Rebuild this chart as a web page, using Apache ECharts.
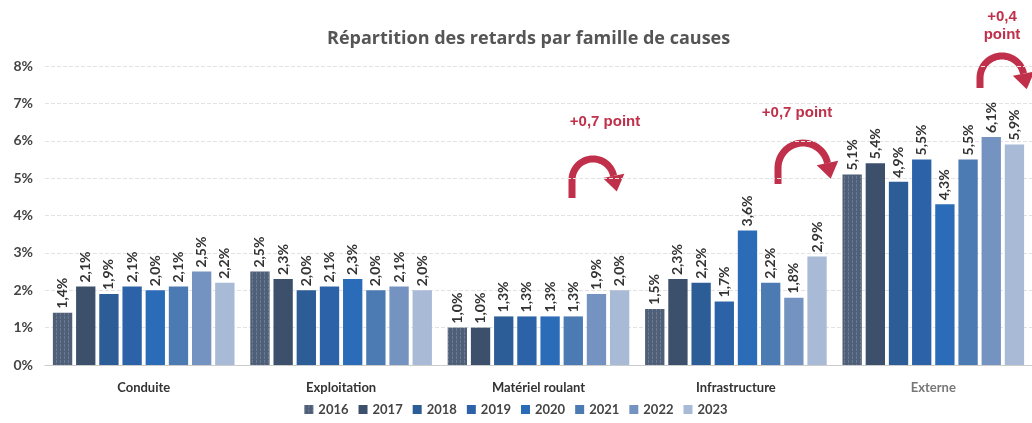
<!DOCTYPE html>
<html>
<head>
<meta charset="utf-8">
<script src="https://cdn.jsdelivr.net/npm/echarts@6/dist/echarts.min.js"></script>
<style>
  html, body { margin: 0; padding: 0; background: #fff; }
  #chart { width: 1032px; height: 423px; }
</style>
</head>
<body>
<div id="chart"></div>
<script>
// familles de causes
const categories = ['Conduite', 'Exploitation', 'Matériel roulant', 'Infrastructure', 'Externe']
const years = ['2016', '2017', '2018', '2019', '2020', '2021', '2022', '2023']
// part des retards (%) par année, dans l'ordre des familles
const v2016 = [1.4, 2.5, 1.0, 1.5, 5.1]
const v2017 = [2.1, 2.3, 1.0, 2.3, 5.4]
const v2018 = [1.9, 2.0, 1.3, 2.2, 4.9]
const v2019 = [2.1, 2.1, 1.3, 1.7, 5.5]
const v2020 = [2.0, 2.3, 1.3, 3.6, 4.3]
const v2021 = [2.1, 2.0, 1.3, 2.2, 5.5]
const v2022 = [2.5, 2.1, 1.9, 1.8, 6.1]
const v2023 = [2.2, 2.0, 2.0, 2.9, 5.9]
const yTicks = [0, 1, 2, 3, 4, 5, 6, 7, 8]

const values = [v2016, v2017, v2018, v2019, v2020, v2021, v2022, v2023]
const colors = ['#4f5f78', '#3d506b', '#2d5d96', '#2c63a8', '#2b6cb9', '#4c7ab3', '#7593c0', '#a8bad6']
const red = '#c0304a'
const font = 'Lato, "Open Sans", sans-serif'

const chart = echarts.init(document.getElementById('chart'))

// flèche courbe : jambe gauche verticale, demi-cercle, pointe vers le bas
const arrow = (cx, cy, r, leg, a1) => {
  const pts = [[cx - r, cy + leg]]
  for (let k = 0; k <= 30; k++) {
    const a = Math.PI + (a1 - Math.PI) * k / 30
    pts.push([cx + r * Math.cos(a), cy + r * Math.sin(a)])
  }
  const ex = cx + r * Math.cos(a1), ey = cy + r * Math.sin(a1)
  const tx = -Math.sin(a1), ty = Math.cos(a1)
  const nx = Math.cos(a1), ny = Math.sin(a1)
  return [
    { type: 'polyline', shape: { points: pts }, style: { stroke: red, lineWidth: 7, fill: null } },
    { type: 'polygon', shape: { points: [
        [ex + nx * 11, ey + ny * 11], [ex - nx * 11, ey - ny * 11], [ex + tx * 16, ey + ty * 16]
      ] }, style: { fill: red } }
  ]
}
const note = (x, y, text) => ({
  type: 'text', x, y,
  style: { text, fill: red, font: 'bold 15px "Liberation Sans", Arial, sans-serif', textAlign: 'center', textVerticalAlign: 'middle' }
})

const option = {
  backgroundColor: '#fff',
  animation: false,
  title: {
    text: 'Répartition des retards par famille de causes',
    left: 322, top: 25,
    textStyle: { fontFamily: '"Open Sans", sans-serif', fontSize: 18, fontWeight: 'bold', color: '#555' }
  },
  legend: {
    bottom: 2, left: 'center',
    icon: 'rect',
    itemWidth: 9, itemHeight: 9, itemGap: 10,
    textStyle: { fontFamily: font, fontSize: 13, fontWeight: 'bold', color: '#444' },
    data: years
  },
  grid: { left: 45, right: -13, top: 66, bottom: 58 },
  xAxis: {
    type: 'category',
    data: categories,
    axisTick: { show: false },
    axisLine: { lineStyle: { color: '#ccc' } },
    axisLabel: {
      margin: 16, fontFamily: font, fontSize: 13, fontWeight: 'bold', color: '#333',
      formatter: v => v === 'Externe' ? '{ext|' + v + '}' : v,
      rich: { ext: { fontFamily: font, fontSize: 13, color: '#777' } }
    }
  },
  yAxis: {
    type: 'value',
    min: yTicks[0], max: yTicks[yTicks.length - 1], interval: 1,
    axisLabel: {
      fontFamily: font, fontSize: 14, fontWeight: 'bold', color: '#444', margin: 12,
      formatter: v => v + '%'
    },
    splitLine: { lineStyle: { color: '#e2e2e2', type: 'dashed' } }
  },
  series: years.map((y, i) => ({
    name: y,
    type: 'bar',
    data: values[i],
    barGap: '20%',
    barCategoryGap: '8%',
    itemStyle: Object.assign({ color: colors[i] }, i === 0 ? {
      decal: { symbol: 'rect', dashArrayX: [1, 3], dashArrayY: [3, 1], color: 'rgba(160,175,195,0.35)' }
    } : {}),
    label: {
      show: true, position: 'top', rotate: 90, align: 'left', verticalAlign: 'middle', distance: 4,
      fontFamily: font, fontSize: 14, fontWeight: 'bold', color: '#333',
      formatter: p => p.value.toFixed(1).replace('.', ',') + '%'
    }
  })),
  graphic: [
    note(605, 122, '+0,7 point'),
    ...arrow(593, 180, 21, 18, 2 * Math.PI - 0.2),
    note(797, 113, '+0,7 point'),
    ...arrow(803, 168, 25, 16, 2 * Math.PI - 0.2),
    note(1002, 17, '+0,4'),
    note(1002, 35, 'point'),
    ...arrow(1002, 78, 22, 10, 2 * Math.PI - 0.2)
  ]
}
chart.setOption(option)
</script>
</body>
</html>
